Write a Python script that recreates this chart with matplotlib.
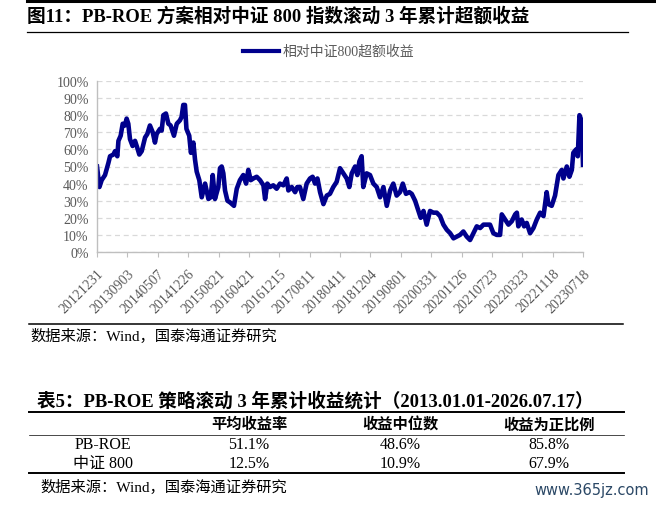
import matplotlib
matplotlib.use('Agg')
import matplotlib.pyplot as plt
from matplotlib.lines import Line2D

plt.rcParams['font.family'] = ['Liberation Serif', 'Noto Sans CJK SC', 'DejaVu Sans']

# ---- 数据（从原图读取，单位：%）----
tick_labels = ['20121231', '20130903', '20140507', '20141226', '20150821',
               '20160421', '20161215', '20170811', '20180411', '20181204',
               '20190801', '20200331', '20201126', '20210723', '20220323',
               '20221118', '20230718']
days_per_tick = 163

days = [0, 13, 25, 43, 61, 70, 88, 97, 109, 115,
        127, 138, 150, 159, 168, 177, 191, 204, 216, 227,
        240, 258, 270, 284, 299, 311, 320, 338, 347, 356,
        370, 383, 395, 413, 428, 445, 454, 463, 472, 480,
        495, 504, 517, 526, 535, 549, 562, 580, 598, 610,
        621, 633, 651, 660, 669, 678, 687, 700, 714, 735,
        750, 767, 785, 800, 812, 825, 839, 857, 875, 893,
        902, 914, 928, 946, 964, 982, 1000, 1018, 1027, 1045,
        1063, 1075, 1089, 1107, 1125, 1143, 1157, 1170, 1183, 1197,
        1215, 1233, 1250, 1268, 1286, 1304, 1322, 1340, 1354, 1367,
        1385, 1397, 1408, 1420, 1429, 1447, 1465, 1483, 1501, 1519,
        1537, 1555, 1573, 1590, 1608, 1626, 1641, 1658, 1676, 1689,
        1707, 1725, 1737, 1752, 1769, 1787, 1805, 1823, 1841, 1859,
        1877, 1895, 1913, 1930, 1948, 1966, 1984, 2002, 2020, 2038,
        2056, 2074, 2091, 2109, 2127, 2145, 2163, 2172, 2190, 2208,
        2226, 2244, 2253, 2261, 2279, 2292, 2306, 2324, 2342, 2360,
        2378, 2396, 2413, 2422, 2440, 2458, 2476, 2494, 2503, 2521,
        2535, 2548, 2556, 2571, 2580, 2589, 2596, 2603, 2608]

excess = [50, 38, 42, 45, 52, 56, 57, 59, 56, 65,
          68, 75, 74, 78, 75, 66, 62, 65, 61, 57,
          59, 67, 69, 74, 70, 64, 69, 72, 71, 80,
          81, 75, 74, 68, 75, 77, 79, 86, 86, 72,
          68, 58, 64, 54, 47, 42, 32, 40, 31, 32,
          45, 31, 38, 49, 50, 46, 36, 30, 29, 27,
          37, 42, 45, 40, 48, 42, 43, 44, 42, 39,
          31, 40, 38, 39, 37, 40, 39, 43, 36, 38,
          35, 38, 38, 31, 40, 43, 44, 40, 43, 35,
          28, 33, 34, 38, 41, 49, 46, 43, 38, 46,
          50, 45, 53, 56, 38, 46, 45, 40, 38, 32,
          38, 27, 36, 40, 33, 35, 40, 34, 35, 34,
          30, 24, 20, 24, 16, 24, 23, 23, 21, 16,
          13, 11, 8, 9, 10, 12, 9, 7, 11, 15,
          14, 16, 16, 16, 11, 10, 10, 22, 19, 16,
          18, 22, 23, 15, 19, 15, 17, 11, 14, 19,
          23, 21, 35, 28, 27, 33, 45, 48, 43, 50,
          44, 48, 58, 60, 56, 80, 78, 70, 51]

table_cols = ['平均收益率', '收益中位数', '收益为正比例']
table_rows = ['PB-ROE', '中证 800']
table_vals = [['51.1%', '48.6%', '85.8%'],
              ['12.5%', '10.9%', '67.9%']]

title = '图11：PB-ROE 方案相对中证 800 指数滚动 3 年累计超额收益'
table_title = '表5：PB-ROE 策略滚动 3 年累计收益统计（2013.01.01-2026.07.17）'
source = '数据来源：Wind，国泰海通证券研究'
legend_label = '相对中证800超额收益'

W, H = 656, 506
LINE_COLOR = '#00008c'
GRAY = '#595959'


def fx(px):
    return px / W


def fy(py):
    return 1 - py / H


def hline(fig, x0, x1, y, lw, color='black'):
    fig.add_artist(Line2D([fx(x0), fx(x1)], [fy(y), fy(y)], lw=lw,
                          color=color, transform=fig.transFigure))


fig = plt.figure(figsize=(W / 100, H / 100), dpi=100)

# ==================== 图表 ====================
ax = fig.add_axes([fx(97), fy(253), (583 - 97) / W, (253 - 82) / H])
ax.plot(days, excess, color=LINE_COLOR, linewidth=3.3, solid_joinstyle='round')

ax.set_xlim(0, days_per_tick * (len(tick_labels) - 1))
ax.set_ylim(0, 100)
ax.set_yticks(range(0, 101, 10))
ax.set_yticklabels([f'{v}%' for v in range(0, 101, 10)], color=GRAY, fontsize=10)
ax.set_xticks([i * days_per_tick for i in range(len(tick_labels))])
ax.set_xticklabels(tick_labels, rotation=45, ha='right', va='top',
                   rotation_mode='anchor', color=GRAY, fontsize=10)

ax.yaxis.grid(True, color='#d9d9d9', linewidth=0.9, linestyle=(0, (4, 3)))
ax.set_axisbelow(True)
for s in ['top', 'right']:
    ax.spines[s].set_visible(False)
for s in ['left', 'bottom']:
    ax.spines[s].set_color('#bfbfbf')
    ax.spines[s].set_linewidth(1.0)
ax.tick_params(axis='y', length=0, pad=6)
ax.tick_params(axis='x', length=3.5, color='#bfbfbf', pad=7)

# 图例
hline(fig, 243, 279, 52, 3.0, LINE_COLOR)
fig.text(fx(283), fy(52), legend_label, color=GRAY, fontsize=10, va='center')

# 标题与分隔线
hline(fig, 27, 656, 1.5, 2.2)
fig.text(fx(27), fy(16), title, fontsize=13.4, fontweight='bold', va='center')
hline(fig, 27, 628, 33, 0.9)
hline(fig, 29, 623, 325, 1.1)
fig.text(fx(30), fy(336), source, fontsize=11, va='center')

# ==================== 表格 ====================
fig.text(fx(37), fy(401), table_title, fontsize=13.4, fontweight='bold', va='center')
hline(fig, 29, 624, 413, 1.4)
col_x = [249, 400, 549]
for x, c in zip(col_x, table_cols):
    fig.text(fx(x), fy(425), c, fontsize=11, fontweight='bold', ha='center', va='center')
hline(fig, 29, 624, 436, 0.5)
row_y = [445, 464]
for y, name, vals in zip(row_y, table_rows, table_vals):
    fig.text(fx(103), fy(y), name, fontsize=11.5, ha='center', va='center')
    for x, v in zip(col_x, vals):
        fig.text(fx(x), fy(y), v, fontsize=11.5, ha='center', va='center')
hline(fig, 29, 624, 474, 1.4)
fig.text(fx(40), fy(487), source, fontsize=11, va='center')

fig.text(fx(649), fy(491), 'www.365jz.com', fontsize=10.5, ha='right', va='center',
         color='#2b4866', family='DejaVu Sans')

fig.savefig('out.png', dpi=100)
